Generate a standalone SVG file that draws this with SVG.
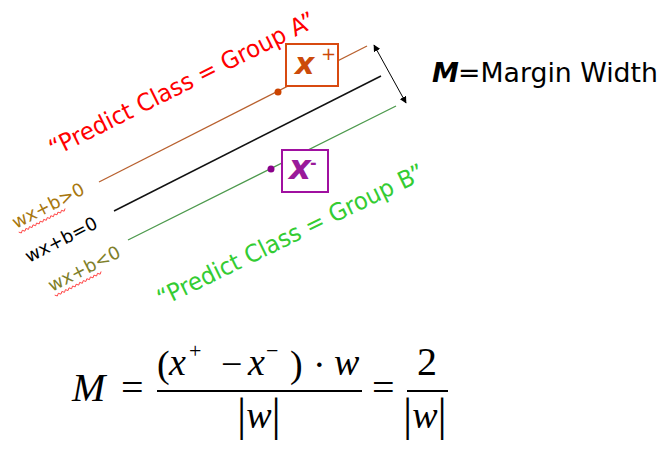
<svg xmlns="http://www.w3.org/2000/svg" width="664" height="449" viewBox="0 0 664 449">
<defs>
<marker id="ah" viewBox="0 0 10 10" refX="9" refY="5" markerWidth="7" markerHeight="7" orient="auto-start-reverse" markerUnits="userSpaceOnUse">
<path d="M0,0 L10,5 L0,10 z" fill="#000"/>
</marker>
<style>
.sans{font-family:"DejaVu Sans","Liberation Sans",sans-serif}
.ser{font-family:"Liberation Serif","Times New Roman",serif;fill:#000}
.it{font-style:italic}
.big{font-size:24px}
.lbl{font-size:18px}
.box{fill:#fff;stroke-width:2}
.sq{fill:none;stroke:#ff3030;stroke-width:0.8}
</style>
</defs>
<rect width="664" height="449" fill="#fff"/>
<g id="connectors">
<line x1="99" y1="182" x2="367" y2="46" stroke="#b8602e" stroke-width="1.3"/>
<line x1="114" y1="211" x2="381" y2="76" stroke="#111" stroke-width="1.5"/>
<line x1="128" y1="240" x2="396" y2="106" stroke="#4c994c" stroke-width="1.3"/>
<line x1="374" y1="45" x2="406" y2="103" stroke="#000" stroke-width="1" marker-start="url(#ah)" marker-end="url(#ah)"/>
</g>
<g id="point-plus">
<circle cx="278" cy="92" r="3.5" fill="#cc4400"/>
<rect class="box" x="286" y="44" width="52" height="42" stroke="#d84a10"/>
<text class="sans" x="295" y="74" font-size="30" font-weight="bold" font-style="italic" fill="#cc4a0a">x</text>
<text class="sans" x="321" y="60" font-size="18" fill="#cc4a0a">+</text>
</g>
<g id="point-minus">
<circle cx="271" cy="169" r="3.5" fill="#8a008a"/>
<rect class="box" x="282" y="150" width="46" height="42" stroke="#a010a0"/>
<text class="sans" x="289" y="179" font-size="34" font-weight="bold" font-style="italic" fill="#9a1a9a">x</text>
<text class="sans" x="310" y="168" font-size="16" font-weight="bold" fill="#9a1a9a">-</text>
</g>
<g id="label-a">
<text class="sans big" transform="translate(54,157) rotate(-26.5)" fill="#ff0000" textLength="294" lengthAdjust="spacingAndGlyphs">“Predict Class = Group A”</text>
</g>
<g id="label-b">
<text class="sans big" transform="translate(162,307) rotate(-26)" fill="#33cc33" textLength="294" lengthAdjust="spacingAndGlyphs">“Predict Class = Group B”</text>
</g>
<g id="label-gt">
<g transform="translate(16,229) rotate(-27)">
<text class="sans lbl" fill="#a8770f">wx+b&gt;0</text>
<path class="sq" d="M1,4 l2,2 l2,-2 l2,2 l2,-2 l2,2 l2,-2 l2,2 l2,-2 l2,2 l2,-2 l2,2 l2,-2 l2,2 l2,-2 l2,2 l2,-2 l2,2 l2,-2 l2,2 l2,-2 l2,2 l2,-2 l2,2 l2,-2 l2,2 l2,-2"/>
</g>
</g>
<g id="label-eq">
<text class="sans lbl" transform="translate(29,263) rotate(-27)" fill="#000">wx+b=0</text>
</g>
<g id="label-lt">
<g transform="translate(52,292) rotate(-27)">
<text class="sans lbl" fill="#7f7f2a">wx+b&lt;0</text>
<path class="sq" d="M1,4 l2,2 l2,-2 l2,2 l2,-2 l2,2 l2,-2 l2,2 l2,-2 l2,2 l2,-2 l2,2 l2,-2 l2,2 l2,-2 l2,2 l2,-2 l2,2 l2,-2 l2,2 l2,-2 l2,2 l2,-2 l2,2 l2,-2 l2,2 l2,-2"/>
</g>
</g>
<g id="margin-label">
<text class="sans" x="432" y="82" font-size="27" font-weight="bold" font-style="italic" fill="#000">M</text>
<text class="sans" x="458" y="82" font-size="27" fill="#000" textLength="200" lengthAdjust="spacingAndGlyphs">=Margin Width</text>
</g>
<g id="formula">
<text class="ser it" x="72" y="401" font-size="40">M</text>
<text class="ser" x="121" y="401" font-size="40">=</text>
<line x1="157" y1="391" x2="362" y2="391" stroke="#000" stroke-width="2.2"/>
<text class="ser" x="157" y="377" font-size="38">(</text>
<text class="ser it" x="169" y="375" font-size="38">x</text>
<text class="ser" x="189" y="358" font-size="22">+</text>
<text class="ser" x="221" y="377" font-size="38">−</text>
<text class="ser it" x="248" y="375" font-size="38">x</text>
<text class="ser" x="266" y="358" font-size="22">−</text>
<text class="ser" x="290" y="377" font-size="38">)</text>
<text class="ser" x="313" y="377" font-size="38">·</text>
<text class="ser it" x="334" y="375" font-size="38">w</text>
<text class="ser" x="237" y="430" font-size="46">|<tspan class="it" font-size="38" dy="-2">w</tspan><tspan dy="2">|</tspan></text>
<text class="ser" x="372" y="401" font-size="40">=</text>
<line x1="407" y1="391" x2="448" y2="391" stroke="#000" stroke-width="2.2"/>
<text class="ser" x="417" y="375" font-size="40">2</text>
<text class="ser" x="403" y="430" font-size="46">|<tspan class="it" font-size="38" dy="-2">w</tspan><tspan dy="2">|</tspan></text>
</g>
</svg>
